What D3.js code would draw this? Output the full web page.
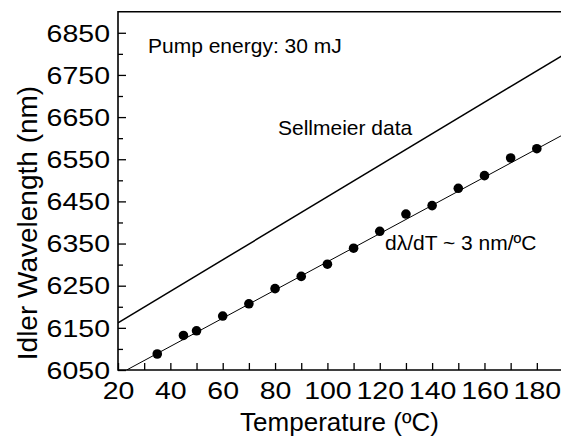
<!DOCTYPE html>
<html>
<head>
<meta charset="utf-8">
<script src="https://cdn.jsdelivr.net/npm/d3@7"></script>
<style>
  body { margin: 0; background: #fff; }
  svg { display: block; font-family: "Liberation Sans", Arial, sans-serif; }
</style>
</head>
<body>
<div id="chart"></div>
<script>

// measured data points (temperature in degC, idler wavelength in nm)
const temps       = [35, 45, 50, 60, 70, 80, 90, 100, 110, 120, 130, 140, 150, 160, 170, 180];
const wavelengths = [6088, 6132, 6143, 6178, 6207, 6243, 6272, 6301, 6339, 6379, 6420, 6440, 6481, 6511, 6553, 6575];

// linear fit through the points, and the Sellmeier prediction (end points)
const fitLine       = [[23.3, 6050], [190, 6608]];
const sellmeierLine = [[20, 6162], [190, 6797]];

const xTicks      = [20, 40, 60, 80, 100, 120, 140, 160, 180];
const xMinorTicks = [30, 50, 70, 90, 110, 130, 150, 170];
const yTicks      = [6050, 6150, 6250, 6350, 6450, 6550, 6650, 6750, 6850];
const yMinorTicks = [6100, 6200, 6300, 6400, 6500, 6600, 6700, 6800];

const width  = 561,
      height = 440,
      margin = { top: 11.7, right: -2, bottom: 70, left: 118 };

const x = d3.scaleLinear()
  .domain([20, 190])
  .range([margin.left, width - margin.right]);

const y = d3.scaleLinear()
  .domain([6050, 6900])
  .range([height - margin.bottom, margin.top]);

const svg = d3.select("#chart")
  .append("svg")
    .attr("width", width)
    .attr("height", height);

svg.append("clipPath")
    .attr("id", "plot-clip")
  .append("rect")
    .attr("x", margin.left)
    .attr("y", margin.top)
    .attr("width", width - margin.left - margin.right)
    .attr("height", height - margin.top - margin.bottom);

const tickFont = 23, stretch = 1.24;

// x axis (ticks point inward)
svg.append("g")
  .attr("transform", `translate(0,${y(6050)})`)
  .call(d3.axisTop(x).tickValues(xMinorTicks).tickSize(7).tickFormat(""))
  .call(g => g.select(".domain").remove())
  .selectAll("line").attr("stroke-width", 1.3);

svg.append("g")
  .attr("transform", `translate(0,${y(6050)})`)
  .call(d3.axisTop(x).tickValues(xTicks).tickSize(7).tickFormat(d3.format("d")))
  .call(g => g.select(".domain").remove())
  .call(g => g.selectAll("line").attr("stroke-width", 1.3))
  .call(g => g.selectAll("text")
    .attr("y", 29)
    .attr("dy", 0)
    .attr("fill", "#000")
    .style("font-size", tickFont + "px")
    .attr("font-family", "Liberation Sans, Arial, sans-serif")
    .attr("transform", `scale(${stretch},1)`));

// y axis (ticks point inward)
svg.append("g")
  .attr("transform", `translate(${x(20)},0)`)
  .call(d3.axisRight(y).tickValues(yMinorTicks).tickSize(5).tickFormat(""))
  .call(g => g.select(".domain").remove())
  .selectAll("line").attr("stroke-width", 1.3);

svg.append("g")
  .attr("transform", `translate(${x(20)},0)`)
  .call(d3.axisRight(y).tickValues(yTicks).tickSize(8).tickFormat(d3.format("d")))
  .call(g => g.select(".domain").remove())
  .call(g => g.selectAll("line").attr("stroke-width", 1.3))
  .call(g => g.selectAll("text")
    .attr("x", -8 / stretch)
    .attr("dy", "0.36em")
    .attr("text-anchor", "end")
    .attr("fill", "#000")
    .style("font-size", tickFont + "px")
    .attr("font-family", "Liberation Sans, Arial, sans-serif")
    .attr("transform", `scale(${stretch},1)`));

// frame: left, bottom, top
svg.append("path")
  .attr("d", `M${x(190) + 5},${y(6900)}H${x(20)}V${y(6050)}H${x(190) + 5}`)
  .attr("fill", "none")
  .attr("stroke", "#000")
  .attr("stroke-width", 1.6);

const line = d3.line()
  .x(d => x(d[0]))
  .y(d => y(d[1]));

const plot = svg.append("g").attr("clip-path", "url(#plot-clip)");

plot.append("path")
  .datum(sellmeierLine)
  .attr("d", line)
  .attr("fill", "none")
  .attr("stroke", "#000")
  .attr("stroke-width", 1.5);

plot.append("path")
  .datum(fitLine)
  .attr("d", line)
  .attr("fill", "none")
  .attr("stroke", "#000")
  .attr("stroke-width", 1);

plot.selectAll("circle.pt")
  .data(temps.map((t, i) => [t, wavelengths[i]]))
  .join("circle")
    .attr("class", "pt")
    .attr("cx", d => x(d[0]))
    .attr("cy", d => y(d[1]))
    .attr("r", 4.8)
    .attr("fill", "#000");

// annotations
const notes = [
  { text: "Pump energy: 30 mJ", x: 148, y: 53 },
  { text: "Sellmeier data",     x: 278, y: 135 },
  { text: "d\u03bb/dT ~ 3 nm/\u00baC", x: 385, y: 250 }
];
svg.selectAll("text.note")
  .data(notes)
  .join("text")
    .attr("class", "note")
    .attr("x", d => d.x)
    .attr("y", d => d.y)
    .style("font-size", "21px")
    .text(d => d.text);

// axis titles
svg.append("text")
  .attr("x", (x(20) + width) / 2)
  .attr("y", 431)
  .attr("text-anchor", "middle")
  .style("font-size", "26px")
  .text("Temperature (\u00baC)");

svg.append("text")
  .attr("transform", `translate(37,${223}) rotate(-90)`)
  .attr("text-anchor", "middle")
  .style("font-size", "28px")
  .text("Idler Wavelength (nm)");

</script>
</body>
</html>
